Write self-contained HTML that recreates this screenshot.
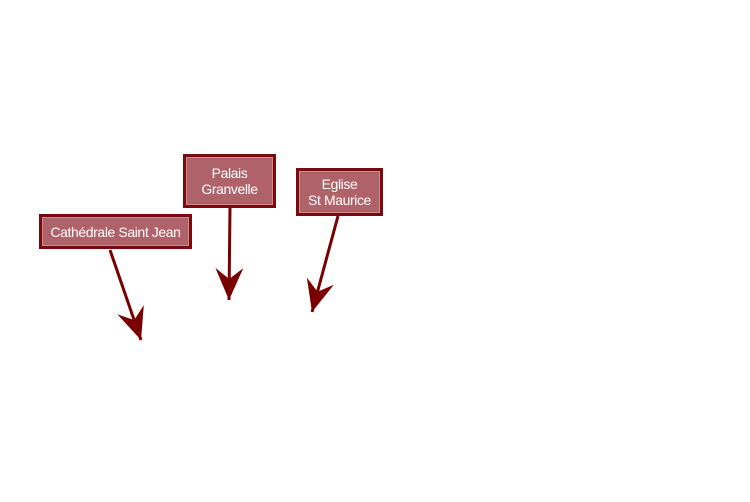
<!DOCTYPE html>
<html><head><style>
body{margin:0;width:750px;height:502px;background:#fff;position:relative;overflow:hidden;font-family:"Liberation Sans",sans-serif}
.b{position:absolute;box-sizing:border-box;border:3px solid #7a0a0c;background:#b0626a;color:#fff;font-size:14px;letter-spacing:-0.4px;line-height:16px;text-align:center;display:flex;align-items:center;justify-content:center;box-shadow:inset 0 0 0 1px #c98a90}
</style></head><body>
<svg width="750" height="502" style="position:absolute;left:0;top:0">
<defs><marker id="a" markerWidth="34" markerHeight="32" refX="32" refY="16" orient="auto" markerUnits="userSpaceOnUse">
<path d="M32,16 L0,2 L11,16 L0,30 Z" fill="#7a0000"/></marker></defs>
<g stroke="#7a0000" stroke-width="3" fill="none" marker-end="url(#a)">
<line x1="110" y1="250" x2="141" y2="340"/>
<line x1="230" y1="207" x2="229" y2="300"/>
<line x1="338" y1="216" x2="312" y2="312"/>
</g></svg>
<div class="b" style="left:39px;top:214px;width:153px;height:35px">Cathédrale Saint Jean</div>
<div class="b" style="left:183px;top:154px;width:93px;height:54px">Palais<br>Granvelle</div>
<div class="b" style="left:296px;top:168px;width:87px;height:48px">Eglise<br>St Maurice</div>
</body></html>
